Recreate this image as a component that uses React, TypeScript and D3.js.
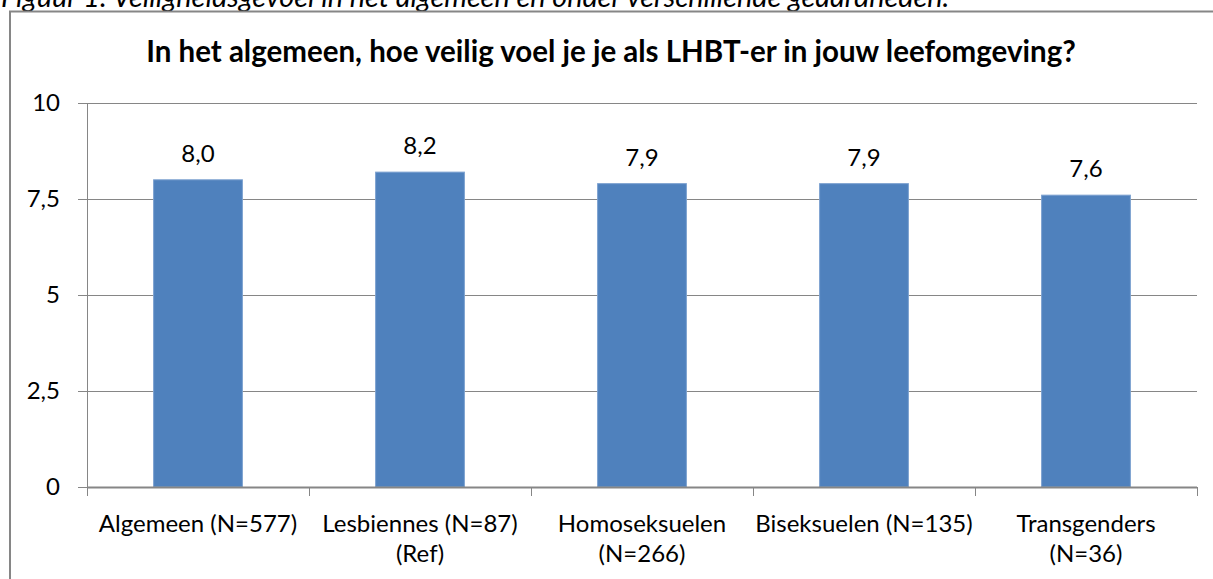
import React, { useRef, useEffect } from "react";
import * as d3 from "d3";

const categories: string[][] = [
  ["Algemeen (N=577)"],
  ["Lesbiennes (N=87)", "(Ref)"],
  ["Homoseksuelen", "(N=266)"],
  ["Biseksuelen (N=135)"],
  ["Transgenders", "(N=36)"],
];
const values = [8.0, 8.2, 7.9, 7.9, 7.6];
const yTicks = [0, 2.5, 5, 7.5, 10];

const title = "In het algemeen, hoe veilig voel je je als LHBT-er in jouw leefomgeving?";
const caption = "Figuur 1: Veiligheidsgevoel in het algemeen en onder verschillende geaardheden.";

const W = 1213;
const H = 579;
const FONT = "Lato, 'Open Sans', sans-serif";

const fmt = (v: number) => String(v).replace(".", ",");
const fmt1 = (v: number) => v.toFixed(1).replace(".", ",");

export default function App() {
  const ref = useRef<SVGSVGElement>(null);

  useEffect(() => {
    const svg = d3.select(ref.current);
    svg.selectAll("*").remove();

    const left = 87;
    const right = 1197;
    const top = 103;
    const bottom = 487;

    const keys = categories.map((c) => c.join(" "));
    const x = d3.scaleBand().domain(keys).range([left, right]).paddingInner(0.6).paddingOuter(0.3);
    const xb = d3.scaleBand().domain(keys).range([left, right]);
    const y = d3.scaleLinear().domain([0, 10]).range([bottom, top]);

    // caption (cut off by the page top, as in the source)
    svg
      .append("text")
      .attr("x", 1)
      .attr("y", 7)
      .style("font-family", FONT)
      .style("font-style", "italic")
      .style("font-size", "28.8px")
      .attr("fill", "#000")
      .text(caption);

    // outer frame
    svg
      .append("path")
      .attr("d", `M10,${H + 2} V11.5 H${W + 2}`)
      .attr("fill", "none")
      .attr("stroke", "#868686")
      .attr("stroke-width", 2);

    svg
      .append("text")
      .attr("x", 611)
      .attr("y", 62)
      .attr("text-anchor", "middle")
      .style("font-family", FONT)
      .style("font-weight", "bold")
      .style("font-size", "29.5px")
      .attr("fill", "#000")
      .text(title);

    // gridlines + y ticks
    const grid = svg.append("g");
    yTicks.forEach((t) => {
      grid
        .append("line")
        .attr("x1", left - 9)
        .attr("x2", t === 0 ? left : right)
        .attr("y1", Math.round(y(t)) + 0.5)
        .attr("y2", Math.round(y(t)) + 0.5)
        .attr("stroke", "#868686")
        .attr("stroke-width", 1);
      grid
        .append("text")
        .attr("x", 60)
        .attr("y", y(t))
        .attr("dy", "0.35em")
        .attr("text-anchor", "end")
        .style("font-family", FONT)
        .style("font-size", "24px")
        .attr("fill", "#000")
        .text(fmt(t));
    });

    // bars
    svg
      .append("g")
      .selectAll("rect")
      .data(values)
      .enter()
      .append("rect")
      .attr("x", (d, i) => x(keys[i])!)
      .attr("width", x.bandwidth())
      .attr("y", (d) => y(d))
      .attr("height", (d) => bottom - y(d))
      .attr("fill", "#4F81BD")
      .attr("stroke", "#7DA2D0")
      .attr("stroke-width", 1);

    // value labels
    svg
      .append("g")
      .selectAll("text")
      .data(values)
      .enter()
      .append("text")
      .attr("x", (d, i) => x(keys[i])! + x.bandwidth() / 2)
      .attr("y", (d) => y(d) - 18)
      .attr("text-anchor", "middle")
      .style("font-family", FONT)
      .style("font-size", "24px")
      .attr("fill", "#000")
      .text((d) => fmt1(d));

    // axes lines
    svg
      .append("line")
      .attr("x1", left + 0.5)
      .attr("x2", left + 0.5)
      .attr("y1", top)
      .attr("y2", bottom + 9)
      .attr("stroke", "#868686");
    svg
      .append("line")
      .attr("x1", left)
      .attr("x2", right)
      .attr("y1", bottom + 0.5)
      .attr("y2", bottom + 0.5)
      .attr("stroke", "#868686")
      .attr("stroke-width", 2);

    const edges = keys.map((k) => xb(k)!).concat([right]);
    svg
      .append("g")
      .selectAll("line")
      .data(edges)
      .enter()
      .append("line")
      .attr("x1", (d) => Math.round(d) + 0.5)
      .attr("x2", (d) => Math.round(d) + 0.5)
      .attr("y1", bottom)
      .attr("y2", bottom + 9)
      .attr("stroke", "#868686");

    // category labels
    const cat = svg
      .append("g")
      .selectAll("text")
      .data(categories)
      .enter()
      .append("text")
      .attr("text-anchor", "middle")
      .style("font-family", FONT)
      .style("font-size", "24px")
      .attr("fill", "#000");
    cat
      .selectAll("tspan")
      .data((d, i) => d.map((line) => ({ line, cx: xb(keys[i])! + xb.bandwidth() / 2 })))
      .enter()
      .append("tspan")
      .attr("x", (d) => d.cx)
      .attr("y", (d, j) => 532 + j * 30)
      .text((d) => d.line);
  }, []);

  return (
    <div style={{ position: "absolute", left: 0, top: 0 }}>
      <svg ref={ref} width={W} height={H} style={{ display: "block", background: "#fff" }} />
    </div>
  );
}
